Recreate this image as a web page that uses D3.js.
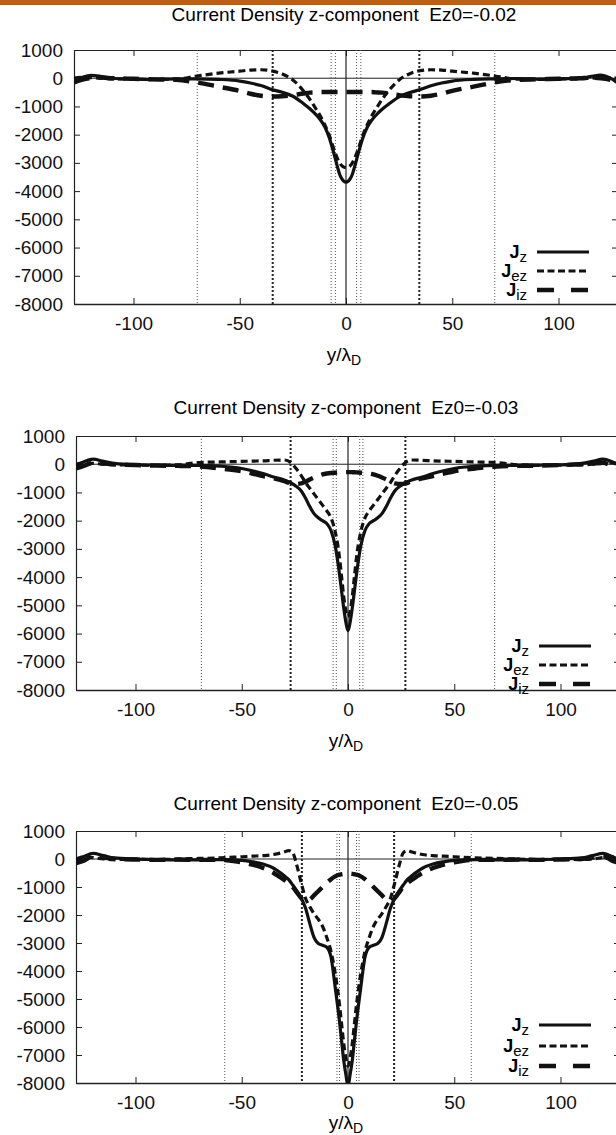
<!DOCTYPE html>
<html>
<head>
<meta charset="utf-8">
<script src="https://cdn.jsdelivr.net/npm/d3@7"></script>
<style>
  body { margin: 0; background: #fff; }
  svg { display: block; font-family: "Liberation Sans", Arial, Helvetica, sans-serif; }
</style>
</head>
<body>
<svg id="chart" width="616" height="1135"></svg>
<script>
"use strict"

// ---- Données ----
var titles = [
  "Current Density z-component  Ez0=-0.02",
  "Current Density z-component  Ez0=-0.03",
  "Current Density z-component  Ez0=-0.05"
]
var xTicks = [-100, -50, 0, 50, 100]
var yTicks = [1000, 0, -1000, -2000, -3000, -4000, -5000, -6000, -7000, -8000]
var seriesNames = ["z", "ez", "iz"]

// panneau 1 (Ez0=-0.02)
var y1 = [-128,-124,-120,-115,-110,-100,-90,-80,-70,-60,-50,-45,-40,-35,-30,-25,-20,-17,-14,-12,-10,-8,-6,-4,-3,-2,-1,0,
  1,2,3,4,6,8,10,12,14,17,20,25,30,35,40,45,50,60,70,80,90,100,110,115,120,124,128]
var jz1 = [-100,30,100,60,0,-30,-50,-20,-20,-40,-100,-170,-260,-400,-500,-640,-900,-1080,-1300,-1480,-1720,-2080,-2580,-3150,-3400,-3560,-3650,-3680,
  -3650,-3560,-3400,-3150,-2600,-2100,-1740,-1500,-1320,-1100,-920,-660,-510,-400,-270,-170,-100,-40,-20,-10,-30,-20,0,60,110,20,-180]
var jez1 = [0,30,20,0,-20,-30,-40,-30,80,180,250,290,300,260,150,-60,-450,-750,-1100,-1350,-1650,-2000,-2450,-2850,-3000,-3100,-3150,-3170,
  -3150,-3100,-3000,-2850,-2450,-2000,-1650,-1350,-1100,-750,-450,-60,160,270,300,290,250,180,80,-30,-40,-30,-20,0,30,20,0]
var jiz1 = [-150,-50,0,20,0,-20,-40,-60,-150,-300,-450,-550,-620,-650,-640,-600,-540,-510,-500,-490,-490,-490,-490,-490,-490,-490,-490,-490,
  -490,-490,-490,-490,-490,-490,-490,-490,-500,-510,-540,-600,-640,-650,-620,-550,-450,-300,-150,-60,-40,-20,0,20,0,-50,-150]
var marks1 = {thin: [-70, -7, -5, 5, 7, 70], thick: [-34.5, 34.5]}

// panneau 2 (Ez0=-0.03)
var y2 = [-128,-124,-120,-115,-110,-100,-90,-80,-70,-60,-50,-45,-40,-35,-30,-27,-25,-22,-20,-18,-16,-14,-12,-10,-8,-6,-4,-3,-2,-1,0,
  1,2,3,4,6,8,10,12,14,16,18,20,22,25,27,30,35,40,45,50,60,70,80,90,100,110,115,120,124,128]
var jz2 = [-50,100,180,100,30,-20,-30,-40,-40,-70,-150,-230,-330,-450,-560,-650,-750,-950,-1200,-1500,-1750,-1900,-2000,-2100,-2350,-2900,-3900,-4500,-5100,-5600,-5900,
  -5600,-5100,-4500,-3900,-2900,-2350,-2100,-2000,-1900,-1750,-1500,-1200,-950,-750,-650,-560,-450,-330,-230,-150,-70,-40,-40,-30,-20,30,100,180,100,-50]
var jez2 = [0,50,30,0,-20,-30,-40,-20,60,80,100,110,120,140,150,60,-100,-400,-650,-850,-1050,-1250,-1450,-1650,-1900,-2400,-3300,-4000,-4700,-5200,-5400,
  -5200,-4700,-4000,-3300,-2400,-1900,-1650,-1450,-1250,-1050,-850,-650,-400,-100,60,150,140,120,110,100,80,60,-20,-40,-30,-20,0,30,50,0]
var jiz2 = [-150,-50,50,20,0,-30,-50,-60,-80,-150,-250,-330,-420,-500,-600,-680,-700,-680,-620,-540,-470,-410,-360,-330,-310,-300,-290,-285,-282,-280,-280,
  -280,-282,-285,-290,-300,-310,-330,-360,-410,-470,-540,-620,-680,-700,-680,-600,-500,-420,-330,-250,-150,-80,-60,-50,-30,0,20,50,-50,-150]
var marks2 = {thin: [-69, -7, -5.5, 5.5, 7, 69], thick: [-27, 27]}

// panneau 3 (Ez0=-0.05)
var y3 = [-128,-124,-120,-115,-110,-100,-90,-80,-70,-60,-50,-45,-40,-35,-30,-28,-26,-24,-22,-20,-18,-16,-14,-12,-10,-8,-6,-4,-3,-2,-1,0,
  1,2,3,4,6,8,10,12,14,16,18,20,22,24,26,28,30,35,40,45,50,60,70,80,90,100,110,115,120,124,128]
var jz3 = [-50,100,200,120,40,0,-20,-30,-30,-20,-50,-100,-180,-330,-600,-730,-930,-1150,-1400,-1750,-2300,-2800,-3020,-3080,-3150,-3500,-4600,-5800,-6500,-7200,-7700,-8100,
  -7700,-7200,-6500,-5800,-4600,-3500,-3150,-3080,-3020,-2800,-2300,-1750,-1400,-1150,-930,-730,-600,-330,-180,-100,-50,-20,-30,-30,-20,0,40,120,200,100,-50]
var jez3 = [0,80,50,0,-20,0,-20,0,20,40,80,100,120,160,250,300,220,-250,-850,-1400,-1700,-1950,-2150,-2400,-2800,-3300,-4100,-5200,-5900,-6600,-7100,-7400,
  -7100,-6600,-5900,-5200,-4100,-3300,-2800,-2400,-2150,-1950,-1700,-1400,-850,-250,220,300,250,160,120,100,80,40,20,0,-20,0,-20,0,50,80,0]
var jiz3 = [-150,-50,100,50,0,-20,-30,-20,-30,-30,-120,-200,-320,-500,-750,-860,-1000,-1200,-1400,-1500,-1450,-1300,-1150,-1000,-850,-720,-620,-560,-545,-530,-522,-520,
  -522,-530,-545,-560,-620,-720,-850,-1000,-1150,-1300,-1450,-1500,-1400,-1200,-1000,-860,-750,-500,-320,-200,-120,-30,-30,-20,-30,-20,0,50,100,-50,-150]
var marks3 = {thin: [-58, -5.2, -4, 4, 5.2, 58], thick: [-21.7, 21.7]}

// ---- Mise en page ----
var svg = d3.select("#chart")
var plotW = 544
var panels = [
  {top: 50,  left: 74, h: 254, titleY: -29, labelY: 57, legY: [202, 221, 240], x: y1, jz: jz1, jez: jez1, jiz: jiz1, marks: marks1},
  {top: 436, left: 76, h: 254, titleY: -22, labelY: 57, legY: [210, 229, 248], x: y2, jz: jz2, jez: jez2, jiz: jiz2, marks: marks2},
  {top: 831, left: 76, h: 252, titleY: -21, labelY: 46, legY: [194, 215, 235], x: y3, jz: jz3, jez: jez3, jiz: jiz3, marks: marks3}
]
var styles = [
  {width: 3.2, dash: null},
  {width: 3.2, dash: "7,4"},
  {width: 4.4, dash: "16,9"}
]

svg.append("rect").attr("x", 0).attr("y", 0).attr("width", 616).attr("height", 5).attr("fill", "#bd5f12")

/**
 * Dessine un panneau complet (axes, repères, courbes, légende)
 */
function drawPanel(p, i) {
  var plotH = p.h
  var g = svg.append("g").attr("transform", "translate(" + p.left + "," + p.top + ")")
  var x = d3.scaleLinear().domain([-128, 128]).range([0, plotW])
  var y = d3.scaleLinear().domain([-8000, 1000]).range([plotH, 0])

  g.append("clipPath").attr("id", "clip" + i)
    .append("rect").attr("width", plotW).attr("height", plotH)

  // titre
  g.append("text")
    .attr("x", plotW / 2 - 2).attr("y", p.titleY)
    .attr("text-anchor", "middle")
    .style("font-size", "19px").style("white-space", "pre")
    .text(titles[i])

  // axes
  var left = g.append("g").call(d3.axisLeft(y).tickValues(yTicks).tickSize(-6).tickSizeOuter(0).tickPadding(11).tickFormat(d => String(d)))
  var right = g.append("g").attr("transform", "translate(" + plotW + ",0)")
    .call(d3.axisRight(y).tickValues(yTicks).tickSize(-6).tickSizeOuter(0).tickFormat(""))
  var bottom = g.append("g").attr("transform", "translate(0," + plotH + ")")
    .call(d3.axisBottom(x).tickValues(xTicks).tickSize(-6).tickSizeOuter(0).tickPadding(12.5).tickFormat(d => String(d)))
  var top = g.append("g").call(d3.axisTop(x).tickValues(xTicks).tickSize(-6).tickSizeOuter(0).tickFormat(""))
  ;[left, right, bottom, top].forEach(a => {
    a.attr("font-size", null).attr("font-family", null)
    a.selectAll("text").style("font-size", "19px").attr("fill", "#111")
    a.selectAll("line").attr("stroke", "#222")
    a.select(".domain").attr("stroke", "#222").attr("stroke-width", 1.2)
  })
  bottom.select(".domain").attr("stroke-width", 1.6)

  // lignes de repère
  g.append("line").attr("x1", 0).attr("x2", plotW).attr("y1", y(0)).attr("y2", y(0))
    .attr("stroke", "#222").attr("stroke-width", 1)
  g.append("line").attr("x1", x(0)).attr("x2", x(0)).attr("y1", 0).attr("y2", plotH)
    .attr("stroke", "#222").attr("stroke-width", 1.2)
  g.selectAll(".thin").data(p.marks.thin).enter().append("line")
    .attr("x1", d => x(d)).attr("x2", d => x(d)).attr("y1", 0).attr("y2", plotH)
    .attr("stroke", "#555").attr("stroke-width", 1).attr("stroke-dasharray", "1,2")
  g.selectAll(".thick").data(p.marks.thick).enter().append("line")
    .attr("x1", d => x(d)).attr("x2", d => x(d)).attr("y1", 0).attr("y2", plotH)
    .attr("stroke", "#222").attr("stroke-width", 2).attr("stroke-dasharray", "2,2")

  // courbes
  var series = [p.jz, p.jez, p.jiz]
  series.forEach((vals, k) => {
    var line = d3.line()
      .x((d, j) => x(p.x[j]))
      .y(d => y(d))
      .curve(d3.curveMonotoneX)
    g.append("path")
      .datum(vals)
      .attr("d", line)
      .attr("clip-path", "url(#clip" + i + ")")
      .attr("fill", "none")
      .attr("stroke", "#111")
      .attr("stroke-width", styles[k].width)
      .attr("stroke-dasharray", styles[k].dash)
      .attr("stroke-linejoin", "round")
  })

  // légende
  var leg = g.selectAll(".legend").data(seriesNames).enter().append("g")
    .attr("transform", (d, k) => "translate(0," + p.legY[k] + ")")
  var t = leg.append("text").attr("x", 453).attr("y", 6).attr("text-anchor", "end")
  t.append("tspan").text("J").style("font-weight", "bold").style("font-size", "18px")
  t.append("tspan").text(d => d).style("font-size", "15px").attr("dy", 4)
  leg.append("line")
    .attr("x1", 463).attr("x2", 515).attr("y1", 0).attr("y2", 0)
    .attr("stroke", "#111")
    .attr("stroke-width", (d, k) => styles[k].width)
    .attr("stroke-dasharray", (d, k) => k == 0 ? null : (k == 1 ? "7,3.5" : "17,17"))

  // titre de l'axe x
  var xl = g.append("text")
    .attr("x", plotW / 2 - 2).attr("y", plotH + p.labelY)
    .attr("text-anchor", "middle")
    .style("font-size", "19px")
  xl.append("tspan").text("y/λ")
  xl.append("tspan").text("D").style("font-size", "14px").attr("dy", 4)
}

panels.forEach(drawPanel)
</script>
</body>
</html>
